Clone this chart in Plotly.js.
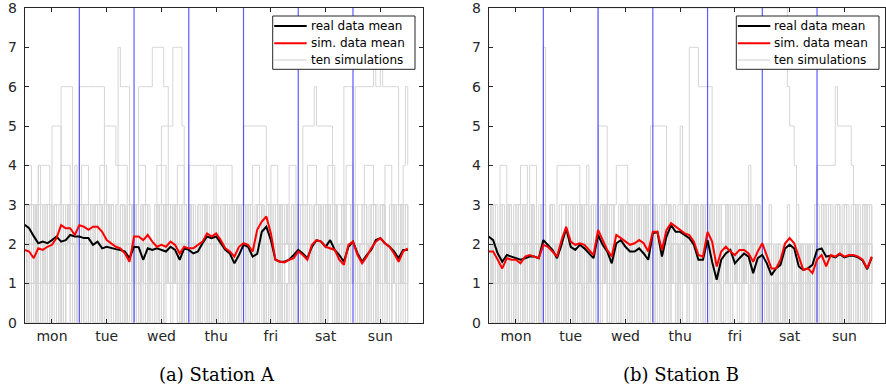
<!DOCTYPE html>
<html><head><meta charset="utf-8">
<script src="https://cdn.plot.ly/plotly-3.0.1.min.js"></script>
<style>html,body{margin:0;padding:0;background:#fff;}#chart{width:886px;height:391px;}</style>
</head><body><div id="chart"></div>
<script>
// ---- categories / ticks ----
const dayLabels = ['mon','tue','wed','thu','fri','sat','sun'];
const dayTickHours = [12,36,60,84,108,132,156];
const dayBoundaryHours = [24,48,72,96,120,144];
const yTicks = [0,1,2,3,4,5,6,7,8];
const meanStepHours = 2;   // mean curves sampled every 2 h
const simStepHours = 1;    // simulations sampled every 1 h
const legendNames = ['real data mean','sim. data mean','ten simulations'];
const captions = ['(a) Station A','(b) Station B'];

// ---- Station A ----
const realMeanA = [2.49,2.40,2.20,2.02,2.06,2.02,2.10,2.19,2.06,2.10,2.23,2.19,2.19,2.15,2.15,1.98,2.06,1.89,1.93,1.89,1.87,1.85,1.81,1.64,1.93,1.92,1.60,1.89,1.85,1.89,1.85,1.81,1.93,1.85,1.60,1.89,1.85,1.76,1.81,2.02,2.19,2.15,2.19,2.02,
  1.85,1.76,1.51,1.72,1.98,1.93,1.68,1.75,2.31,2.44,2.10,1.60,1.55,1.55,1.60,1.72,1.85,1.76,1.64,1.93,2.10,2.06,1.93,2.10,1.85,1.72,1.55,1.93,2.06,1.76,1.55,1.72,1.85,2.10,2.15,2.02,1.93,1.81,1.64,1.85,1.85];
const simMeanA = [1.85,1.81,1.64,1.89,1.85,1.93,1.98,2.15,2.48,2.40,2.40,2.23,2.48,2.44,2.36,2.44,2.44,2.31,2.10,2.02,1.93,1.89,1.76,1.55,2.19,2.19,2.10,2.23,2.06,1.93,1.98,1.93,2.06,1.98,1.76,1.93,1.89,1.89,1.98,2.06,2.27,2.19,2.27,2.10,
  1.89,1.81,1.68,1.93,2.02,1.98,1.81,2.36,2.57,2.70,2.27,1.60,1.55,1.53,1.60,1.64,1.81,1.72,1.60,1.98,2.10,2.06,1.93,1.89,1.85,1.60,1.47,1.98,2.06,1.72,1.51,1.68,1.89,2.06,2.15,2.02,1.93,1.76,1.55,1.81,1.89];
const simRunsA = [
  "332230 432113 223366 666342 666666 666662 221202 331122 212330 111232 301222 212331 230021 332112 221232 111232 322023 212221 032133 221012 233323 222301 232211 032123 212221 023312 221101 222123 2",
  "120013 102312 555521 230111 322123 212305 555547 666632 102212 012001 232223 101222 301112 321023 222012 331121 012221 230111 321230 222301 232101 232223 012221 231121 321023 212201 132123 102321 1",
  "012002 321130 122012 331201 231101 232223 012221 230123 236666 667777 766321 230121 212201 233102 311232 002321 123312 221230 111232 012221 301132 123322 321101 232123 210222 123012 331202 221231 2",
  "201132 122021 232201 232223 012221 230111 232012 322230 121230 212123 555557 777532 123012 322231 011320 123222 321112 323012 123310 222121 012221 232102 331230 113212 230111 232202 321132 101222 1",
  "232223 012321 230020 232113 123312 321230 113212 002323 210232 122012 331232 122012 321230 111232 012221 230123 555555 555532 123012 321232 235555 565555 555321 230121 232223 012311 230121 232113 2",
  "123312 012221 232123 002123 230111 232012 321222 012331 321023 222321 023312 321101 212221 230121 232223 012320 123312 321023 212201 232113 012221 232012 322232 126666 366666 666766 766666 663212 2",
  "444323 444443 212344 443212 344432 113444 322234 444221 234443 222344 443112 344432 444444 444443 444444 432123 212344 433123 444221 234443 222344 443212 344432 113444 321234 444331 234443 222346 4",
  "101110 012101 220120 111210 210011 012201 210210 122012 111210 200121 012111 210120 121000 121012 101220 012101 210111 012201 210120 101112 010121 002101 211210 121012 101110 210221 012101 200120 1",
  "233221 323312 232232 132233 322312 233321 223132 332231 231323 312232 233122 323231 322133 232213 323322 132323 233212 332233 121332 232312 323322 131232 233213 322332 213323 223312 332221 323323 2",
  "100120 210011 021200 112010 021102 001201 120021 010210 201001 210120 012102 100210 012010 201102 100120 210012 100210 012001 210210 012100 210012 100201 021010 201210 012100 210012 100210 012102 0"
];

// ---- Station B ----
const realMeanB = [2.19,2.10,1.76,1.55,1.72,1.68,1.64,1.60,1.64,1.68,1.68,1.64,2.10,1.98,1.85,1.64,1.98,2.40,1.93,1.85,1.98,1.89,1.76,1.64,2.23,1.98,1.81,1.51,2.02,2.10,1.93,1.81,1.81,1.89,1.76,1.60,2.27,2.31,1.68,2.19,2.48,2.31,2.31,2.23,
  2.15,1.98,1.60,1.60,2.10,1.55,1.09,1.60,1.76,1.85,1.51,1.64,1.76,1.68,1.26,1.64,1.72,1.51,1.21,1.38,1.47,1.89,1.98,1.89,1.43,1.34,1.38,1.47,1.85,1.89,1.68,1.70,1.66,1.74,1.66,1.70,1.70,1.66,1.58,1.36,1.66];
const simMeanB = [1.81,1.81,1.60,1.38,1.64,1.60,1.60,1.51,1.68,1.72,1.68,1.64,1.98,1.93,1.81,1.68,2.10,2.44,2.06,1.98,2.02,1.98,1.85,1.72,2.36,2.10,1.85,1.68,2.23,2.15,2.06,1.98,2.02,2.10,2.02,1.81,2.31,2.31,1.85,2.36,2.53,2.44,2.36,2.27,
  2.23,2.06,1.72,1.68,2.31,2.06,1.43,1.81,1.93,1.81,1.72,1.85,1.85,1.76,1.55,1.81,2.02,1.68,1.38,1.38,1.60,2.02,2.15,2.02,1.68,1.34,1.38,1.26,1.60,1.72,1.43,1.72,1.68,1.76,1.68,1.72,1.72,1.68,1.60,1.38,1.68];
const simRunsB = [
  "121002 210121 011101 212201 012121 022101 210111 012101 888888 888888 888888 888888 888888 888888 888888 888888 888888 888888 888888 888888 888888 888886 554210 121012 101110 121012 201210 111012 1",
  "121201 212002 120111 201212 712012 110121 201222 012120 121101 212012 130121 201112 012120 121201 521377 776666 663212 012111 201212 022120 111201 201012 110121 201012 012120 121101 212012 110121 2",
  "232124 442123 124442 444212 322312 222123 321132 212321 232123 311232 222321 132125 555555 321222 123212 331232 123212 221232 113212 322232 112321 121123 211321 212123 321222 123312 321132 122212 3",
  "212221 012321 230111 232123 012321 444444 444421 242123 212321 234444 432123 212321 232223 211321 232123 222321 232113 212321 222123 211321 121012 101211 120102 111211 444444 446555 555423 212321 2",
  "101210 111012 101200 121012 101110 121002 101210 120012 555521 012101 210121 012101 210111 012101 200121 012201 210121 012101 210121 412101 100101 011101 110100 011101 210111 012201 210121 002101 2",
  "231322 123221 332312 231122 312231 222132 231332 312211 223132 211322 312231 323132 231322 312221 223132 231312 312231 223122 231322 312331 122111 011201 110121 011211 223132 221322 312231 213132 2",
  "100210 012001 210210 012100 210012 100201 021010 201210 012100 210012 100210 012102 100120 210011 021200 112010 021102 001201 120021 010210 101001 010110 100101 011010 201001 210120 012102 100210 1",
  "233221 323312 232232 132233 322312 233321 223132 332231 231323 312232 233122 323231 322133 232213 323322 132323 233212 332233 121332 232312 212211 121122 211212 112121 213323 223312 332221 323323 2",
  "121012 101110 120121 002101 210111 012102 101210 122012 101210 110121 012201 210121 012102 101110 121012 201210 120121 012001 210111 012102 101010 010101 101001 010110 121012 101110 120121 012201 1",
  "312213 221322 213221 311213 221312 213321 312213 222312 213221 312213 221322 213221 312213 231312 213221 312223 221312 213221 332213 221312 111211 121112 111211 121111 213221 312213 221312 213321 2"
];

// ---- styling ----
const FONT = 'DejaVu Sans';
const AXC = '#262626';
const W = 886, H = 391;
const panels = [
  {real: realMeanA, sim: simMeanA, runs: simRunsA, xa: 'x', ya: 'y',
   x0: 24.6, x1: 423, xmax: 174.7, legendLeft: 272.7, legendRight: 415, captionX: 217},
  {real: realMeanB, sim: simMeanB, runs: simRunsB, xa: 'x2', ya: 'y2',
   x0: 488.6, x1: 885, xmax: 173.8, legendLeft: 736.3, legendRight: 879, captionX: 680.5}
];
const plotTop = 8, plotBottom = 322.7;
const simColor = 'rgb(214,214,214)';
const legendRows = [26, 43.3, 60];
const legendColors = ['#000', '#ff0000', 'rgb(205,205,205)'];
const legendWidths = [2, 2, 1];

const traces = [];
const shapes = [];
const annotations = [];
const layout = {
  width: W, height: H, margin: {l:0, r:0, t:0, b:0},
  paper_bgcolor: '#fff', plot_bgcolor: '#fff',
  font: {family: FONT, color: AXC}, showlegend: false
};
const px = v => v / W, py = v => 1 - v / H;

panels.forEach((p, k) => {
  const sfx = k === 0 ? '' : '2';
  // simulations
  p.runs.forEach((s, j) => {
    const vals = s.replace(/\s+/g, '').split('').map(Number);
    traces.push({
      type: 'scatter', mode: 'lines', xaxis: p.xa, yaxis: p.ya,
      x: vals.map((_, i) => i * simStepHours), y: vals,
      line: {shape: 'hv', color: simColor, width: 1},
      name: legendNames[2], hoverinfo: 'skip'
    });
  });
  // day boundaries
  const bx = [], by = [];
  dayBoundaryHours.forEach(h => { bx.push(h, h, null); by.push(0, 8, null); });
  traces.push({type: 'scatter', mode: 'lines', xaxis: p.xa, yaxis: p.ya, x: bx, y: by,
    line: {color: 'rgba(40,40,255,0.75)', width: 1.2}, hoverinfo: 'skip'});
  // means
  traces.push({type: 'scatter', mode: 'lines', xaxis: p.xa, yaxis: p.ya,
    x: p.real.map((_, i) => i * meanStepHours), y: p.real,
    line: {color: '#000', width: 2}, name: legendNames[0]});
  traces.push({type: 'scatter', mode: 'lines', xaxis: p.xa, yaxis: p.ya,
    x: p.sim.map((_, i) => i * meanStepHours), y: p.sim,
    line: {color: '#ff0000', width: 2}, name: legendNames[1]});

  layout['xaxis' + sfx] = {
    domain: [px(p.x0), px(p.x1)], range: [0, p.xmax], anchor: 'y' + sfx,
    tickmode: 'array', tickvals: dayTickHours, ticktext: dayLabels,
    ticks: 'inside', ticklen: 4, tickcolor: AXC, mirror: 'ticks',
    showline: true, linecolor: AXC, linewidth: 1, showgrid: false, zeroline: false,
    tickfont: {family: FONT, size: 14, color: AXC}, ticklabelstandoff: 0, fixedrange: true
  };
  layout['yaxis' + sfx] = {
    domain: [py(plotBottom), py(plotTop)], range: [0, 8], anchor: 'x' + sfx,
    tickmode: 'array', tickvals: yTicks, ticklabeloverflow: 'allow',
    ticks: 'inside', ticklen: 4, tickcolor: AXC, mirror: 'ticks',
    showline: true, linecolor: AXC, linewidth: 1, showgrid: false, zeroline: false,
    tickfont: {family: FONT, size: 14, color: AXC}, ticklabelstandoff: 4, fixedrange: true
  };

  // legend (box, line samples, labels)
  shapes.push({type: 'rect', xref: 'paper', yref: 'paper',
    x0: px(p.legendLeft), x1: px(p.legendRight), y0: py(69.3), y1: py(16),
    fillcolor: '#fff', line: {color: AXC, width: 1}, layer: 'above'});
  legendRows.forEach((ry, r) => {
    shapes.push({type: 'line', xref: 'paper', yref: 'paper',
      x0: px(p.legendLeft + 1.5), x1: px(p.legendLeft + 34), y0: py(ry), y1: py(ry),
      line: {color: legendColors[r], width: legendWidths[r]}, layer: 'above'});
    annotations.push({text: legendNames[r], xref: 'paper', yref: 'paper',
      x: px(p.legendLeft + 36), y: py(ry), xanchor: 'left', yanchor: 'middle',
      showarrow: false, font: {family: FONT, size: 12, color: '#000'}});
  });

  annotations.push({
    text: captions[k], xref: 'paper', yref: 'paper', x: px(p.captionX), y: py(374),
    xanchor: 'center', yanchor: 'middle', showarrow: false,
    font: {family: 'DejaVu Serif', size: 18, color: '#000'}
  });
});
layout.shapes = shapes;
layout.annotations = annotations;

Plotly.newPlot('chart', traces, layout, {displayModeBar: false, staticPlot: true});
</script></body></html>
